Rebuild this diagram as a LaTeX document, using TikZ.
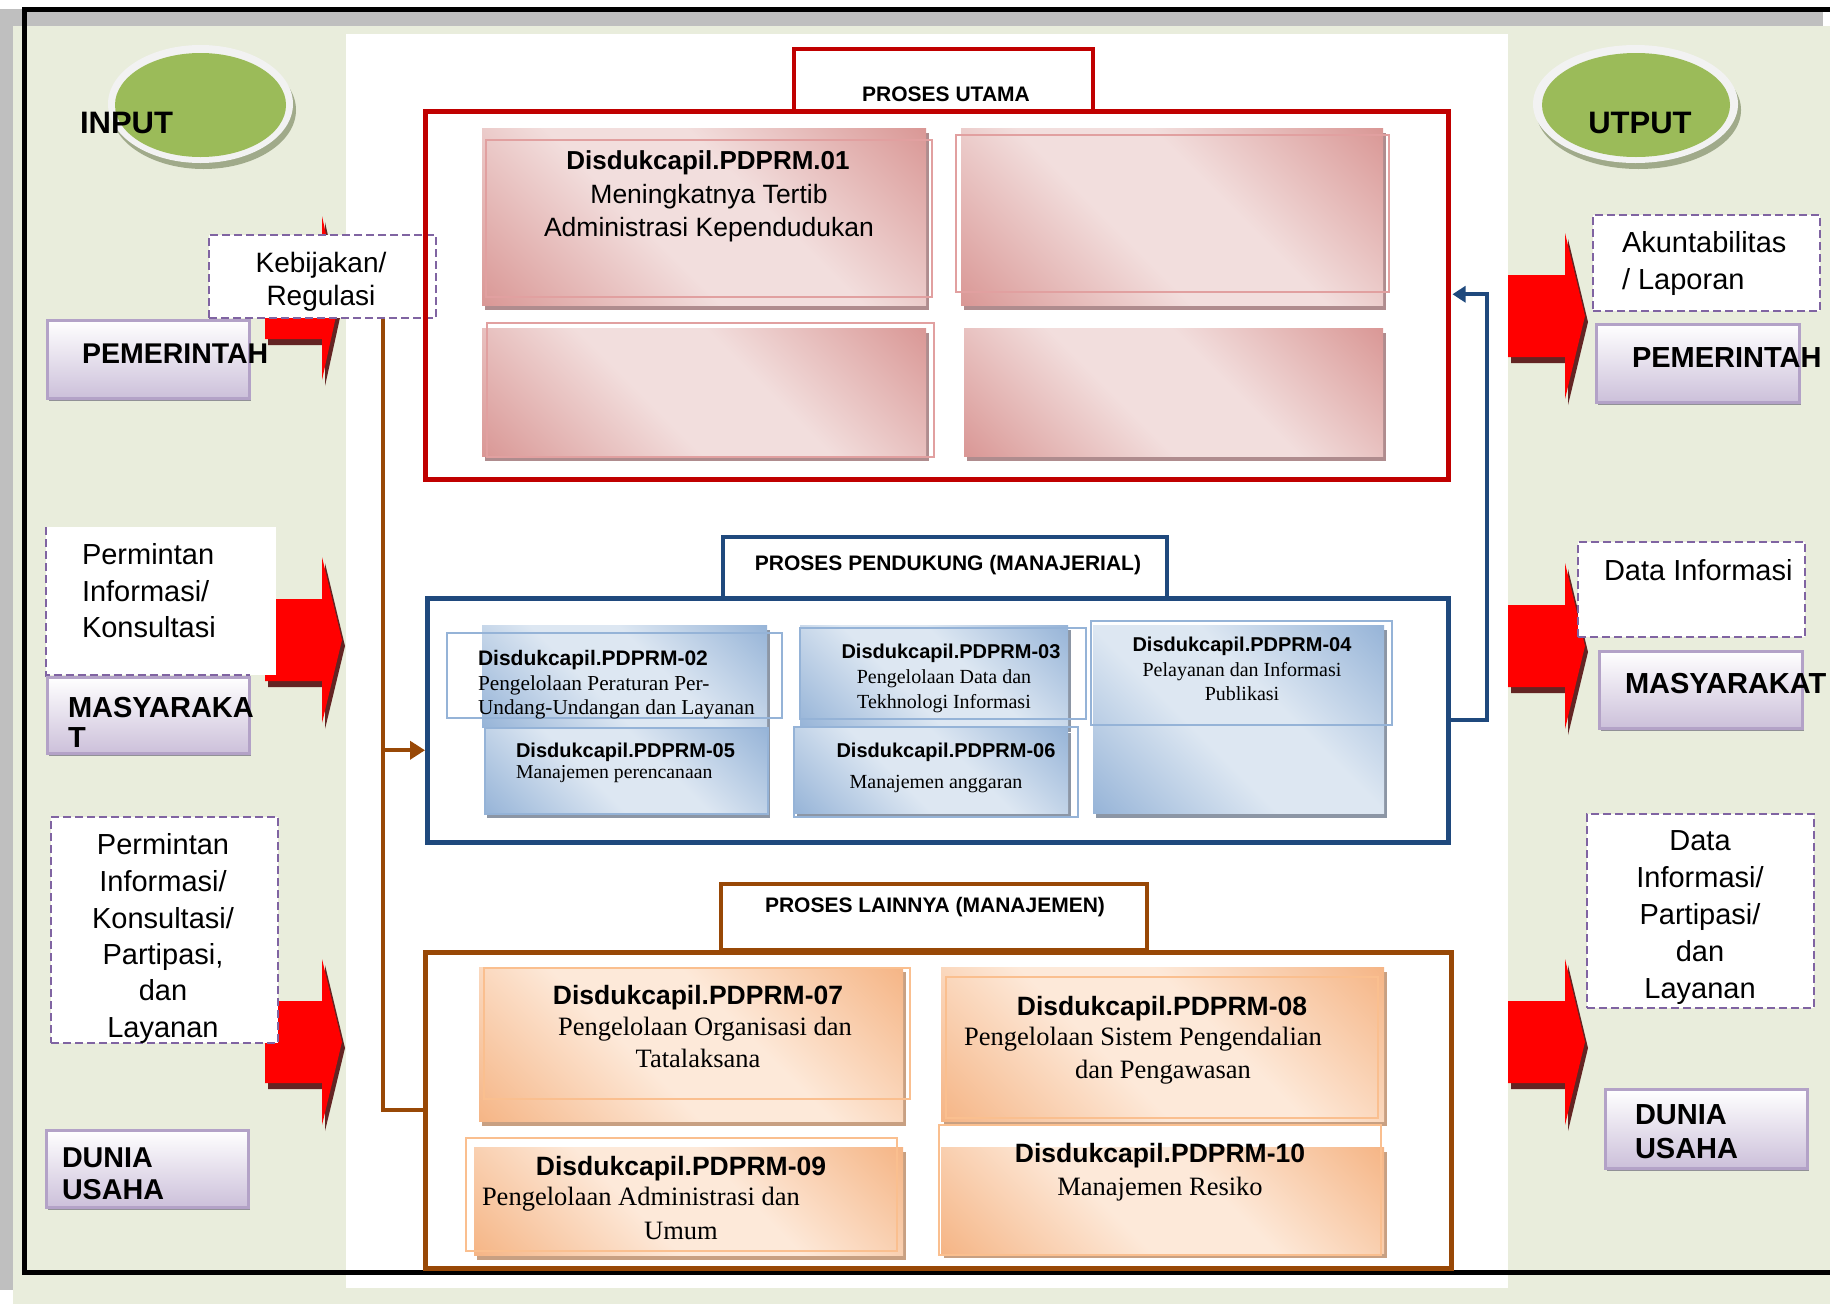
\documentclass[tikz,border=0pt]{standalone}
\usepackage{fontspec}
\setmainfont{Liberation Sans}
\newfontfamily\tnr{Liberation Serif}
\usetikzlibrary{arrows.meta,calc}
\definecolor{bgreen}{RGB}{233,237,220}
\definecolor{bgray}{RGB}{191,191,191}
\definecolor{olive}{RGB}{155,187,89}
\definecolor{ring}{RGB}{242,242,242}
\definecolor{eshadow}{RGB}{160,170,138}
\definecolor{dred}{RGB}{192,0,0}
\definecolor{dblue}{RGB}{31,73,125}
\definecolor{dbrown}{RGB}{152,72,6}
\definecolor{purp}{RGB}{128,100,162}
\definecolor{lavb}{RGB}{179,162,199}
\definecolor{lav}{RGB}{204,192,218}
\definecolor{lshadow}{RGB}{145,145,150}
\definecolor{arrred}{RGB}{255,0,0}
\definecolor{arrshadow}{RGB}{99,36,35}
\definecolor{pinkD}{RGB}{217,150,148}
\definecolor{pinkL}{RGB}{242,222,221}
\definecolor{pinkS}{RGB}{175,140,142}
\definecolor{pinkO}{RGB}{225,160,160}
\definecolor{blueD}{RGB}{149,179,215}
\definecolor{blueL}{RGB}{221,231,242}
\definecolor{blueS}{RGB}{140,150,165}
\definecolor{blueO}{RGB}{149,179,215}
\definecolor{orD}{RGB}{245,180,132}
\definecolor{orL}{RGB}{253,233,217}
\definecolor{orS}{RGB}{200,160,130}
\definecolor{orO}{RGB}{250,191,143}
\pgfdeclareverticalshading{pinkgr}{100bp}{color(0bp)=(pinkD); color(14bp)=(pinkD); color(42bp)=(pinkL); color(58bp)=(pinkL); color(86bp)=(pinkD); color(100bp)=(pinkD)}
\pgfdeclareverticalshading{bluegr}{100bp}{color(0bp)=(blueD); color(14bp)=(blueD); color(42bp)=(blueL); color(58bp)=(blueL); color(86bp)=(blueD); color(100bp)=(blueD)}
\pgfdeclareverticalshading{orgr}{100bp}{color(0bp)=(orD); color(14bp)=(orD); color(42bp)=(orL); color(58bp)=(orL); color(86bp)=(orD); color(100bp)=(orD)}
\newcommand{\fsz}[1]{\fontsize{#1}{#1}\selectfont}
% red block arrow: body left, head base, tip x, centre y, head half-height, body half-height
\newcommand{\bigarrow}[6]{%
  \fill[arrshadow] (#1+3,#4-#6+6) -- (#2+3,#4-#6+6) -- (#2+3,#4-#5+6) -- (#3+3,#4+6) -- (#2+3,#4+#5+6) -- (#2+3,#4+#6+6) -- (#1+3,#4+#6+6) -- cycle;
  \fill[arrred] (#1,#4-#6) -- (#2,#4-#6) -- (#2,#4-#5) -- (#3,#4) -- (#2,#4+#5) -- (#2,#4+#6) -- (#1,#4+#6) -- cycle;
}
\newcommand{\lavnode}[5]{%
  \fill[lshadow] (#2+3,#3+4) rectangle (#4+3,#5+4);
  \node[lavstyle, anchor=north west, minimum width=#4-#2, minimum height=#5-#3] (#1) at (#2,#3) {};
}
\newcommand{\gbox}[7]{%
  \fill[#2] (#4+3,#5+5) rectangle (#6+3,#7+5);
  \node[#1, anchor=north west, minimum width=#6-#4, minimum height=#7-#5] (#3) at (#4,#5) {};
}
\begin{document}
\begin{tikzpicture}[x=1pt, y=-1pt,
  txt/.style={inner sep=0pt, outer sep=0pt, anchor=base},
  lavstyle/.style={draw=lavb, line width=2.5pt, top color=white, bottom color=lav, inner sep=0pt},
  dbox/.style={draw=purp, line width=2.2pt, dash pattern=on 8pt off 4pt, fill=white, inner sep=0pt},
  gradR/.style={inner sep=0pt, shading=pinkgr, shading angle=-45},
  gradB/.style={inner sep=0pt, shading=bluegr, shading angle=-45},
  gradO/.style={inner sep=0pt, shading=orgr, shading angle=-45},
  frameline/.style={line width=4.5pt, inner sep=0pt, anchor=north west},
  tabbox/.style={line width=4pt, fill=white, inner sep=0pt, anchor=north west},
  hsans/.style={font=\fsz{#1}\bfseries},
  rsans/.style={font=\fsz{#1}},
  rserif/.style={font=\tnr\fsz{#1}}]
\useasboundingbox (0,0) rectangle (1830,1304);
% ---------- background ----------
\fill[white] (0,0) rectangle (1830,1304);
\fill[bgray] (0,9) rectangle (1823,1290);
\fill[bgreen] (13,26) rectangle (1830,1304);
\fill[white] (346,34) rectangle (1508,1288);
\begin{scope}
  \clip (0,0) rectangle (1830,1304);
  \draw[line width=5pt] (24.5,9.5) rectangle (1860,1272.5);
\end{scope}
% ---------- ellipses ----------
\fill[eshadow] (203.5,110) ellipse [x radius=92.5, y radius=59];
\fill[ring] (200.5,104) ellipse [x radius=92.5, y radius=59];
\fill[olive] (200.5,105) ellipse [x radius=85.5, y radius=52];
\fill[eshadow] (1638.5,110) ellipse [x radius=102.5, y radius=59];
\fill[ring] (1635.5,104) ellipse [x radius=102.5, y radius=59];
\fill[olive] (1636,105) ellipse [x radius=94, y radius=52];
% ---------- red block arrows ----------
\bigarrow{265}{322}{340}{298}{82}{41}
\bigarrow{265}{322}{342}{640}{83}{41}
\bigarrow{265}{322}{342}{1042}{83}{41}
\bigarrow{1508}{1565}{1585}{316}{83}{41}
\bigarrow{1508}{1565}{1585}{646}{83}{41}
\bigarrow{1508}{1565}{1585}{1042}{83}{41}
% ---------- left side boxes ----------
\node[dbox, anchor=north west, minimum width=227, minimum height=83] (keb) at (208,234) {};
\lavnode{pemL}{46}{319}{248}{397}
\node[fill=white, inner sep=0pt, anchor=north west, minimum width=230, minimum height=148] (perm1) at (46,527) {};
\draw[purp, line width=2.2pt, dash pattern=on 8pt off 4pt] (perm1.north west) -- (perm1.south west) -- ([xshift=-26pt]perm1.south east);
\lavnode{masL}{46}{676}{248}{752}
\node[dbox, anchor=north west, minimum width=227, minimum height=226] (perm2) at (50,816) {};
\lavnode{dunL}{45}{1129}{247}{1206}
% ---------- right side boxes ----------
\node[dbox, anchor=north west, minimum width=227, minimum height=96] (akun) at (1592,214) {};
\lavnode{pemR}{1595}{323}{1798}{401}
\node[dbox, anchor=north west, minimum width=227, minimum height=95] (dinf) at (1577,541) {};
\lavnode{masR}{1598}{650}{1801}{727}
\node[dbox, anchor=north west, minimum width=227, minimum height=194] (dpart) at (1586,813) {};
\lavnode{dunR}{1604}{1088}{1806}{1167}
% ---------- process frames ----------
\node[tabbox, draw=dred, minimum width=299, minimum height=62] (tabU) at (792,47) {};
\node[frameline, draw=dred, minimum width=1023, minimum height=368] (utama) at (423,109) {};
\node[tabbox, draw=dblue, minimum width=444, minimum height=61] (tabP) at (721,535) {};
\node[frameline, draw=dblue, minimum width=1021, minimum height=244] (pend) at (425,596) {};
\node[tabbox, draw=dbrown, minimum width=426, minimum height=66] (tabL) at (719,882) {};
\node[frameline, draw=dbrown, minimum width=1026, minimum height=316] (lain) at (423,950) {};
% ---------- red inner boxes ----------
\gbox{gradR}{pinkS}{rA}{482}{128}{926}{305}
\draw[pinkO, line width=2pt] (486,140) rectangle (932,297);
\gbox{gradR}{pinkS}{rB}{961}{128}{1383}{305}
\draw[pinkO, line width=2pt] (956,135) rectangle (1389,292);
\gbox{gradR}{pinkS}{rC}{482}{328}{926}{456}
\draw[pinkO, line width=2pt] (487,323) rectangle (934,457);
\gbox{gradR}{pinkS}{rD}{964}{328}{1383}{456}
% ---------- blue inner boxes ----------
\gbox{gradB}{blueS}{b2}{482}{625}{767}{727}
\gbox{gradB}{blueS}{b3}{800}{625}{1068}{727}
\gbox{gradB}{blueS}{b4}{1093}{625}{1384}{813}
\gbox{gradB,draw=blueO,line width=2pt}{blueS}{b5}{484}{727}{767}{813}
\gbox{gradB}{blueS}{b6}{794}{728}{1068}{813}
\draw[blueO, line width=2.5pt] (447,633) rectangle (782,718);
\draw[blueO, line width=2.5pt] (800,628) rectangle (1086,719);
\draw[blueO, line width=2pt] (794,727) rectangle (1078,817);
\draw[blueO, line width=2.5pt] (1091,621) rectangle (1392,725);
% ---------- orange inner boxes ----------
\gbox{gradO}{orS}{o7}{479}{967}{903}{1121}
\draw[orO, line width=2.5pt] (484,968) rectangle (910,1099);
\gbox{gradO}{orS}{o8}{941}{967}{1384}{1121}
\draw[orO, line width=2.5pt] (946,977) rectangle (1378,1118);
\gbox{gradO}{orS}{o9}{474}{1147}{903}{1255}
\draw[orO, line width=2.5pt] (466,1138) rectangle (897,1251);
\gbox{gradO}{orS}{o10}{941}{1147}{1384}{1253}
\draw[orO, line width=2.5pt] (939,1125) rectangle (1381,1255);
% ---------- connectors ----------
\coordinate (bx) at (383,0);
\coordinate (pin) at ([yshift=-30pt]pend.west);
\draw[dbrown, line width=4pt] (keb.south -| bx) -- (bx |- lain.west) -- (lain.west);
\draw[dbrown, line width=4pt, -{Triangle[length=15pt,width=18pt]}] (bx |- pin) -- (pin);
\coordinate (rx) at (1487,0);
\coordinate (qin) at ([xshift=2pt,yshift=1pt]utama.east);
\draw[dblue, line width=4pt, -{Triangle[length=13pt,width=16pt]}] (pend.east) -- (rx |- pend.east) -- (rx |- qin) -- (qin);
% ---------- texts: left ----------
\node[txt, hsans=31, anchor=base west] (tinp) at (80,133) {INPUT};
\node[txt, rsans=28] (kb1) at (321,272) {Kebijakan/};
\node[txt, rsans=28] (kb2) at (321,305) {Regulasi};
\node[txt, hsans=28.5, anchor=base west] (pm1) at (82,363) {PEMERINTAH};
\node[txt, rsans=29, anchor=base west] (pi1) at (82,564) {Permintan};
\node[txt, rsans=29, anchor=base west] (pi2) at (82,601) {Informasi/};
\node[txt, rsans=29, anchor=base west] (pi3) at (82,637) {Konsultasi};
\node[txt, hsans=29, anchor=base west] (ms1) at (68,717) {MASYARAKA};
\node[txt, hsans=29, anchor=base west] (ms2) at (68,747) {T};
\node[txt, rsans=29] (pk1) at (163,854) {Permintan};
\node[txt, rsans=29] (pk2) at (163,891) {Informasi/};
\node[txt, rsans=29] (pk3) at (163,928) {Konsultasi/};
\node[txt, rsans=29] (pk4) at (163,964) {Partipasi,};
\node[txt, rsans=29] (pk5) at (163,1000) {dan};
\node[txt, rsans=29] (pk6) at (163,1037) {Layanan};
\node[txt, hsans=28.7, anchor=base west] (du1) at (62,1167) {DUNIA};
\node[txt, hsans=28.7, anchor=base west] (du2) at (62,1199) {USAHA};
% ---------- texts: right ----------
\node[txt, hsans=31] (tout) at (1640,133) {UTPUT};
\node[txt, rsans=29, anchor=base west] (ak1) at (1622,252) {Akuntabilitas};
\node[txt, rsans=29, anchor=base west] (ak2) at (1622,289) {/ Laporan};
\node[txt, hsans=29, anchor=base west] (pm2) at (1632,367) {PEMERINTAH};
\node[txt, rsans=29, anchor=base west] (di1) at (1604,580) {Data Informasi};
\node[txt, hsans=29, anchor=base west] (ms3) at (1625,693) {MASYARAKAT};
\node[txt, rsans=29] (dp1) at (1700,850) {Data};
\node[txt, rsans=29] (dp2) at (1700,887) {Informasi/};
\node[txt, rsans=29] (dp3) at (1700,924) {Partipasi/};
\node[txt, rsans=29] (dp4) at (1700,961) {dan};
\node[txt, rsans=29] (dp5) at (1700,998) {Layanan};
\node[txt, hsans=29, anchor=base west] (du3) at (1635,1124) {DUNIA};
\node[txt, hsans=29, anchor=base west] (du4) at (1635,1158) {USAHA};
% ---------- texts: tabs ----------
\node[txt, hsans=21] (lu) at (946,101) {PROSES UTAMA};
\node[txt, hsans=21] (lp) at (948,570) {PROSES PENDUKUNG (MANAJERIAL)};
\node[txt, hsans=21] (ll) at (935,912) {PROSES LAINNYA (MANAJEMEN)};
% ---------- texts: red ----------
\node[txt, hsans=26] (a1) at (708,169) {Disdukcapil.PDPRM.01};
\node[txt, rsans=26.5] (a2) at (709,203) {Meningkatnya Tertib};
\node[txt, rsans=26.5] (a3) at (709,236) {Administrasi Kependudukan};
% ---------- texts: blue ----------
\node[txt, hsans=21, anchor=base west] (c2a) at (478,665) {Disdukcapil.PDPRM-02};
\node[txt, rserif=21.3, anchor=base west] (c2b) at (478,690) {Pengelolaan Peraturan Per-};
\node[txt, rserif=21.3, anchor=base west] (c2c) at (478,714) {Undang-Undangan dan Layanan};
\node[txt, hsans=20, anchor=base west] (c5a) at (516,757) {Disdukcapil.PDPRM-05};
\node[txt, rserif=19.7, anchor=base west] (c5b) at (516,778) {Manajemen perencanaan};
\node[txt, hsans=20] (c3a) at (951,658) {Disdukcapil.PDPRM-03};
\node[txt, rserif=20] (c3b) at (944,683) {Pengelolaan Data dan};
\node[txt, rserif=20] (c3c) at (944,708) {Tekhnologi Informasi};
\node[txt, hsans=20] (c6a) at (946,757) {Disdukcapil.PDPRM-06};
\node[txt, rserif=20] (c6b) at (936,788) {Manajemen anggaran};
\node[txt, hsans=20] (c4a) at (1242,651) {Disdukcapil.PDPRM-04};
\node[txt, rserif=20] (c4b) at (1242,676) {Pelayanan dan Informasi};
\node[txt, rserif=20] (c4c) at (1242,700) {Publikasi};
% ---------- texts: orange ----------
\node[txt, hsans=26.5] (c7a) at (698,1004) {Disdukcapil.PDPRM-07};
\node[txt, rserif=26.5] (c7b) at (705,1035) {Pengelolaan Organisasi dan};
\node[txt, rserif=26.5] (c7c) at (698,1067) {Tatalaksana};
\node[txt, hsans=26.5] (c8a) at (1162,1015) {Disdukcapil.PDPRM-08};
\node[txt, rserif=26.5] (c8b) at (1143,1045) {Pengelolaan Sistem Pengendalian};
\node[txt, rserif=26.5] (c8c) at (1163,1078) {dan Pengawasan};
\node[txt, hsans=26.5] (c9a) at (681,1175) {Disdukcapil.PDPRM-09};
\node[txt, rserif=26.5, anchor=base west] (c9b) at (482,1205) {Pengelolaan Administrasi dan};
\node[txt, rserif=26.5] (c9c) at (681,1239) {Umum};
\node[txt, hsans=26.5] (c10a) at (1160,1162) {Disdukcapil.PDPRM-10};
\node[txt, rserif=26.5] (c10b) at (1160,1195) {Manajemen Resiko};
\end{tikzpicture}
\end{document}
